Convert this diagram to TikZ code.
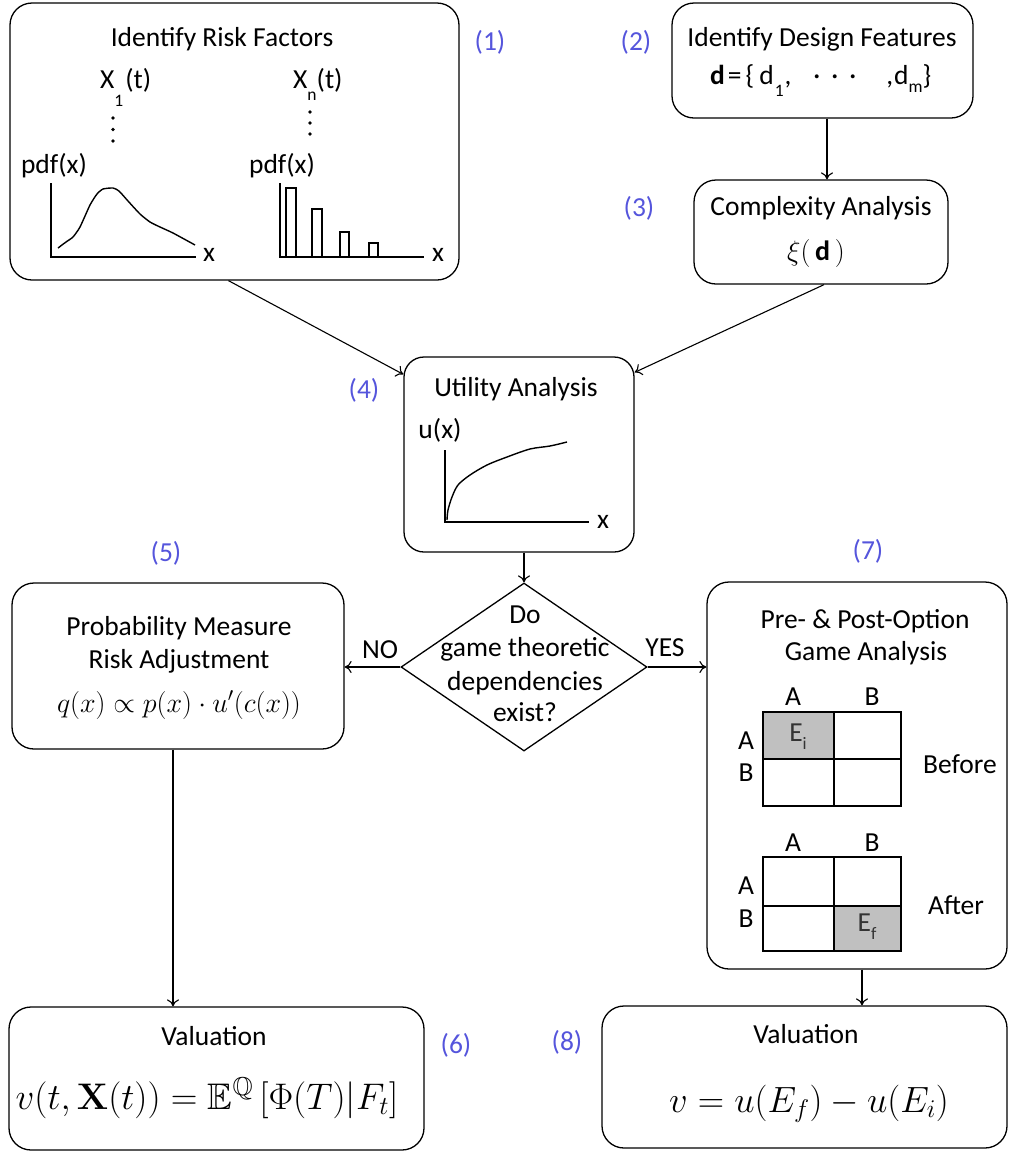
\RequirePackage{fix-cm}
\documentclass[tikz,border=0pt]{standalone}
\usepackage{amsmath,amssymb}
\usepackage[no-math]{fontspec}
\setmainfont{Carlito}
\usetikzlibrary{arrows.meta,shapes.geometric,calc}
\definecolor{labelblue}{RGB}{85,85,220}
\definecolor{cellgray}{RGB}{192,192,192}
\newcommand{\subtxt}[2]{\raisebox{#1}{\fontsize{17.5}{17.5}\selectfont #2}}

\begin{document}
\begin{tikzpicture}[x=1pt,y=-1pt,
  box/.style={draw, line width=1.3pt, rounded corners=22pt, inner sep=0pt},
  txt/.style={inner sep=0pt, font=\fontsize{27.5}{33}\selectfont, text height=17.7pt, text depth=0pt},
  rawtxt/.style={inner sep=0pt, font=\fontsize{27.5}{33}\selectfont},
  num/.style={txt, text=labelblue},
  arr/.style={line width=1.1pt, -{To[length=7pt,width=12pt]}},
  axis/.style={line width=1.4pt},
  curve/.style={line width=1.4pt, line join=round},
  gridline/.style={line width=1.4pt},
  bar/.style={line width=1.3pt},
]
\useasboundingbox (0,0) rectangle (1009,1152);

% ---------- boxes ----------
\node[box, minimum width=449pt, minimum height=277pt] (rf) at (234.5,141.5) {};
\node[box, minimum width=301pt, minimum height=115pt] (df) at (822.5,60.5) {};
\node[box, minimum width=254pt, minimum height=104pt] (cx) at (821,232) {};
\node[box, minimum width=230pt, minimum height=195pt, rounded corners=20pt] (ut) at (519,454.5) {};
\node[draw, diamond, line width=1.3pt, minimum width=246pt, minimum height=168pt, inner sep=0pt] (dec) at (524,667) {};
\node[box, minimum width=332pt, minimum height=166pt] (pm) at (178,666) {};
\node[box, minimum width=300pt, minimum height=387pt] (ga) at (857,775.5) {};
\node[box, minimum width=415pt, minimum height=143pt] (va) at (216.5,1078.5) {};
\node[box, minimum width=405pt, minimum height=142pt] (vb) at (804.5,1077) {};

% ---------- step numbers ----------
\node[num] (n1) at (490,42) {(1)};
\node[num] (n2) at (636,42) {(2)};
\node[num] (n3) at (639,208) {(3)};
\node[num] (n4) at (364,390) {(4)};
\node[num] (n5) at (166,553) {(5)};
\node[num] (n6) at (456,1045) {(6)};
\node[num] (n7) at (868,551) {(7)};
\node[num] (n8) at (567,1042) {(8)};

% ---------- (1) risk factors ----------
\node[txt] (rfT) at (222,38) {Identify Risk Factors};
\node[rawtxt, anchor=base west] (xone) at (100,88) {X\subtxt{-0.68em}{1}\hspace{2pt}(t)};
\node[rawtxt, anchor=base west] (xn) at (293,88) {X\subtxt{-0.45em}{n}(t)};
\foreach \yy in {118,129.5,141} \fill (113,\yy) circle (1.8);
\foreach \yy in {112,123,134} \fill (310,\yy) circle (1.8);
\node[txt] (pdfA) at (54,165) {pdf(x)};
\node[txt] (pdfB) at (282,165) {pdf(x)};
\draw[axis] (51,183) -- (51,257) -- (196,257);
\node[txt] (xA) at (209,253) {x};
\draw[curve] plot[smooth, tension=0.35] coordinates {(58,248) (66,242) (73,237) (80,227) (90,205) (97,194) (103,189) (113,188) (119,191) (128,201) (140,214) (150,222) (160,227) (173,233) (195,245)};
\draw[axis] (280,183) -- (280,257) -- (424,257);
\node[txt] (xB) at (438,253) {x};
\draw[bar] (286,257) rectangle (296,188);
\draw[bar] (312,257) rectangle (322,209);
\draw[bar] (340,257) rectangle (349,232);
\draw[bar] (369,257) rectangle (378,243);

% ---------- (2) design features ----------
\node[txt] (dfT) at (822,38) {Identify Design Features};
\node[rawtxt, anchor=base west] (dset) at (710,84)
  {\textbf{d}\hspace{3pt}=\hspace{4pt}\{\hspace{5pt}d\hspace{1pt}\subtxt{-0.45em}{1}\hspace{1pt},\hspace{22pt}\textperiodcentered\hspace{11pt}\textperiodcentered\hspace{11pt}\textperiodcentered\hspace{30pt},\hspace{1pt}d\subtxt{-0.3em}{m}\}};

% ---------- (3) complexity ----------
\node[txt] (cxT) at (821,207) {Complexity Analysis};
\node[inner sep=0pt, font=\fontsize{28}{28}\selectfont, text height=21pt, text depth=7pt] (xi) at (816,253)
  {$\xi($\,\textbf{d}\,$)$};

% ---------- (4) utility ----------
\node[txt] (utT) at (516,388) {Utility Analysis};
\node[txt] (ux) at (440,430) {u(x)};
\draw[axis] (445,450) -- (445,522) -- (589,522);
\node[txt] (xC) at (603,520) {x};
\draw[curve] plot[smooth, tension=0.5] coordinates {(447,520) (448,510) (452,497) (458,485) (470,475) (487,465) (507,457) (530,449) (550,446) (567,442)};

% ---------- decision ----------
\node[txt] (q1) at (525,615) {Do};
\node[txt] (q2) at (525,648) {game theoretic};
\node[txt] (q3) at (525,682) {dependencies};
\node[txt] (q4) at (525,713) {exist?};
\node[txt] (no) at (380,650) {NO};
\node[txt] (yes) at (665,648) {YES};

% ---------- (5) probability measure ----------
\node[txt] (pmT1) at (179,627) {Probability Measure};
\node[txt] (pmT2) at (179,660) {Risk Adjustment};
\node[inner sep=0pt, font=\fontsize{28}{28}\selectfont, text height=21pt, text depth=7pt] (qf) at (179,705)
  {$q(x) \propto p(x)\cdot u'(c(x))$};

% ---------- (7) game analysis ----------
\node[txt] (gaT1) at (865,620) {Pre- \& Post-Option};
\node[txt] (gaT2) at (866,652) {Game Analysis};
% before
\fill[cellgray] (763,712) rectangle (834,759);
\draw[gridline] (763,712) rectangle (901,806);
\draw[gridline] (834,712) -- (834,806) (763,759) -- (901,759);
\node[txt] (bcA) at (793,697) {A};
\node[txt] (bcB) at (872,697) {B};
\node[txt] (brA) at (746,741) {A};
\node[txt] (brB) at (746,773) {B};
\node[rawtxt, text=black!80] (ei) at (798,737) {E\subtxt{-0.3em}{i}};
\node[txt] (before) at (960,765) {Before};
% after
\fill[cellgray] (834,906) rectangle (901,951);
\draw[gridline] (763,857) rectangle (901,951);
\draw[gridline] (834,857) -- (834,951) (763,906) -- (901,906);
\node[txt] (acA) at (793,843) {A};
\node[txt] (acB) at (872,843) {B};
\node[txt] (arA) at (746,886) {A};
\node[txt] (arB) at (746,919) {B};
\node[rawtxt, text=black!80] (ef) at (867,927) {E\subtxt{-0.3em}{f}};
\node[txt] (after) at (956,906) {After};

% ---------- (6) and (8) valuation ----------
\node[txt] (vaT) at (214,1037) {Valuation};
\node[inner sep=0pt, font=\fontsize{37}{37}\selectfont, text height=27.75pt, text depth=9.25pt] (vaF) at (207,1100)
  {$v(t,\mathbf{X}(t)) = \mathbb{E}^{\mathbb{Q}}\left[\Phi(T)|F_t\right]$};
\node[txt] (vbT) at (806,1035) {Valuation};
\node[inner sep=0pt, font=\fontsize{36.5}{36.5}\selectfont, text height=27.4pt, text depth=9.1pt] (vbF) at (809,1103)
  {$v = u(E_f) - u(E_i)$};

% ---------- connectors ----------
\draw[arr] ([xshift=-6pt]rf.south) -- ([yshift=-18pt]ut.north west);
\draw[arr] ([xshift=3pt]cx.south) -- ([yshift=-16pt]ut.north east);
\draw[arr] ([xshift=4.5pt]df.south) -- ([xshift=4.5pt]df.south |- cx.north);
\draw[arr] (ut.south -| dec.north) -- (dec.north);
\draw[arr] (dec.west) -- (dec.west -| pm.east);
\draw[arr] (dec.east) -- (dec.east -| ga.west);
\draw[arr] ([xshift=-5pt]pm.south) -- ([xshift=-5pt]pm.south |- va.north);
\draw[arr] ([xshift=5pt]ga.south) -- ([xshift=5pt]ga.south |- vb.north);
\end{tikzpicture}
\end{document}
